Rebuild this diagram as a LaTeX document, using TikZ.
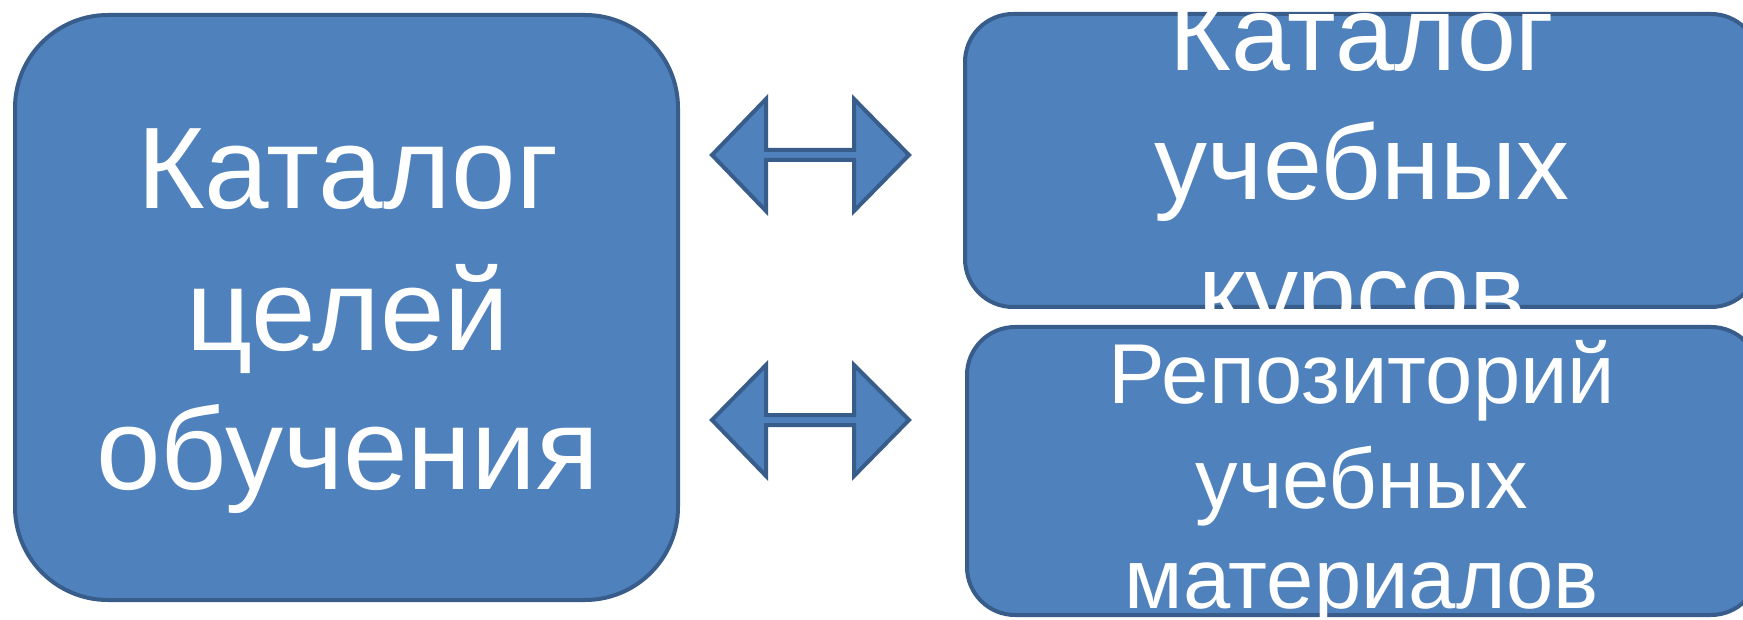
\documentclass[tikz,border=0pt]{standalone}
\usepackage{fontspec}
\setmainfont{Liberation Sans}
\definecolor{boxfill}{HTML}{4F81BD}
\definecolor{boxline}{HTML}{385D8A}
\tikzset{
  blockbox/.style={fill=boxfill, draw=boxline, line width=4pt},
  dblarrow/.style={fill=boxfill, draw=boxline, line width=4pt, line join=miter},
  lblbig/.style={text=white, anchor=base, inner sep=0pt, font=\fontsize{116}{139}\selectfont},
  lblmid/.style={text=white, anchor=base, inner sep=0pt, font=\fontsize{106}{127}\selectfont},
  lblsmall/.style={text=white, anchor=base, inner sep=0pt, font=\fontsize{85}{102}\selectfont},
}
\begin{document}
\begin{tikzpicture}[x=1pt, y=-1pt]
\useasboundingbox (0,0) rectangle (1743,620);
\clip (0,0) rectangle (1743,620);
\fill[white] (0,0) rectangle (1743,620);

% left box
\draw[blockbox, rounded corners=93pt] (15,15) rectangle (678,600);
\node[lblbig] (l1) at (348,209) {Каталог};
\node[lblbig] (l2) at (348,350) {целей};
\node[lblbig] (l3) at (348,489) {обучения};

% top right box
\draw[blockbox, rounded corners=48pt] (965,14) rectangle (1759,307);
\begin{scope}
\clip (963,12) rectangle (1761,311);
\node[lblmid] (t1) at (1362,71) {Каталог};
\node[lblmid] (t2) at (1362,200) {учебных};
\node[lblmid] (t3) at (1362,328) {курсов};
\end{scope}

% bottom right box
\draw[blockbox, rounded corners=48pt] (967,327) rectangle (1759,615);
\begin{scope}
\clip (965,325) rectangle (1761,620);
\node[lblsmall] (b1) at (1362,403) {Репозиторий};
\node[lblsmall] (b2) at (1362,508) {учебных};
\node[lblsmall] (b3) at (1362,608) {материалов};
\end{scope}

% double arrows
\draw[dblarrow] (712,155) -- (766,99) -- (766,150) -- (854,150) -- (854,99)
  -- (909,155) -- (854,211) -- (854,160) -- (766,160) -- (766,211) -- cycle;
\draw[dblarrow] (712,420) -- (766,365) -- (766,415) -- (854,415) -- (854,365)
  -- (909,420) -- (854,476) -- (854,425) -- (766,425) -- (766,476) -- cycle;
\end{tikzpicture}
\end{document}
